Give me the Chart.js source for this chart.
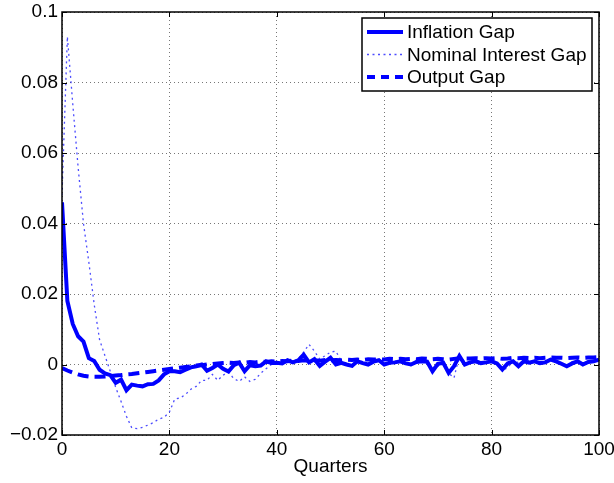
<!DOCTYPE html>
<html>
<head>
<meta charset="utf-8">
<script src="https://cdn.jsdelivr.net/npm/chart.js@4"></script>
<style>
  html, body { margin: 0; padding: 0; background: #fff; }
  #wrap { width: 614px; height: 483px; }
</style>
</head>
<body>
<div id="wrap"><canvas id="chart"></canvas></div>
<script>
// quarters 0..100
const quarters = Array.from({ length: 101 }, (_, i) => i);

const inflationGap = [
  0.046, 0.018, 0.0115, 0.008, 0.0065, 0.0018, 0.001, -0.0015, -0.0025, -0.003,
  -0.0052, -0.0043, -0.0073, -0.0057, -0.006, -0.0062, -0.0056, -0.0055, -0.0045, -0.0028,
  -0.0019, -0.0019, -0.0022, -0.0015, -0.0008, -0.0005, 0.0, -0.0018, -0.001, 0.0,
  -0.0012, -0.002, -0.0002, 0.0005, -0.0019, -0.0002, -0.0005, -0.0003, 0.0009, 0.0004,
  0.0005, 0.0003, 0.0012, 0.0006, 0.0012, 0.0028, 0.0006, 0.0015, -0.0004, 0.0008,
  0.0019, 0.0, 0.0005, 0.0, -0.0004, 0.0009, 0.0004, 0.0, 0.0008, 0.0012,
  0.0, 0.0005, 0.0006, 0.0009, 0.0003, 0.0, 0.0007, 0.0009, 0.0008, -0.0019,
  0.0002, 0.0005, -0.0024, -0.0005, 0.0024, 0.0, 0.0006, 0.0009, 0.0004, 0.0006,
  0.0009, 0.0003, -0.0014, 0.0003, 0.0009, -0.0005, 0.0009, 0.0005, 0.0009, 0.0004,
  0.0006, 0.0014, 0.0009, 0.0002, -0.0005, 0.0003, 0.0009, 0.0, 0.0007, 0.0009,
  0.0014
];

const nominalInterestGap = [
  0.048, 0.093, 0.074, 0.056, 0.04, 0.029, 0.017, 0.007, 0.0025, -0.002,
  -0.0065, -0.0105, -0.0147, -0.018, -0.0182, -0.0178, -0.0172, -0.0165, -0.0155, -0.015,
  -0.0135, -0.0098, -0.0095, -0.0085, -0.007, -0.0062, -0.0045, -0.0045, -0.0028, -0.0045,
  -0.003, -0.0022, -0.004, -0.0048, -0.0035, -0.0048, -0.0042, -0.0025, -0.0012, 0.0,
  0.0005, 0.0, 0.0012, 0.001, 0.0015, 0.0035, 0.0057, 0.0038, 0.0015, 0.0025,
  0.0035, 0.0038, 0.001, -0.0002, -0.0009, 0.0008, 0.0009, -0.0002, 0.0005, 0.0014,
  0.0, 0.0003, 0.0009, 0.0012, 0.0004, -0.0004, 0.0006, 0.0012, 0.0012, -0.0018,
  -0.0005, 0.0008, -0.0025, -0.0038, 0.0025, 0.0008, 0.0004, 0.0012, 0.0008, 0.0004,
  0.0012, 0.0006, -0.0016, -0.001, 0.0012, 0.0005, 0.0007, 0.0012, 0.0008, 0.0002,
  0.0008, 0.0016, 0.0012, 0.0003, -0.0005, 0.0008, 0.0012, 0.0003, 0.0005, 0.0012,
  0.0015
];

const outputGap = [
  -0.001, -0.0017, -0.0023, -0.0028, -0.0032, -0.0034, -0.0035, -0.0035, -0.0034, -0.0033,
  -0.0031, -0.003, -0.0028, -0.0027, -0.0025, -0.0023, -0.0021, -0.0019, -0.0017, -0.0015,
  -0.0013, -0.0011, -0.0009, -0.0007, -0.0005, -0.0003, -0.0002, 0.0, 0.0001, 0.0003,
  0.0004, 0.0005, 0.0004, 0.0006, 0.0005, 0.0007, 0.0006, 0.0008, 0.0007, 0.0009,
  0.0008, 0.001, 0.0009, 0.0011, 0.001, 0.0012, 0.001, 0.0012, 0.0011, 0.0013,
  0.0012, 0.0013, 0.0012, 0.0014, 0.0013, 0.0014, 0.0013, 0.0015, 0.0014, 0.0015,
  0.0014, 0.0016, 0.0015, 0.0016, 0.0015, 0.0016, 0.0015, 0.0017, 0.0016, 0.0015,
  0.0016, 0.0015, 0.0014, 0.0016, 0.0018, 0.0017, 0.0017, 0.0018, 0.0017, 0.0018,
  0.0017, 0.0018, 0.0016, 0.0017, 0.0019, 0.0018, 0.0019, 0.0018, 0.0019, 0.0018,
  0.0019, 0.002, 0.0019, 0.0019, 0.0018, 0.0019, 0.002, 0.0019, 0.002, 0.002,
  0.0021
];

const seriesLabels = ['Inflation Gap', 'Nominal Interest Gap', 'Output Gap'];
const xTicks = [0, 20, 40, 60, 80, 100];
const yTicks = [-0.02, 0, 0.02, 0.04, 0.06, 0.08, 0.1];

const FONT = "'Liberation Sans', Arial, Helvetica, sans-serif";
const BLUE = '#0000ff';

const toPoints = (vals) => quarters.map((q, i) => ({ x: q, y: vals[i] }));

// box, inward ticks and the legend, MATLAB style
const matlabAxes = {
  id: 'matlabAxes',
  afterDraw(chart) {
    const { ctx, chartArea: a, scales: { x, y } } = chart;
    ctx.save();
    ctx.strokeStyle = '#000';
    ctx.lineWidth = 1.5;
    ctx.strokeRect(a.left, a.top, a.right - a.left, a.bottom - a.top);

    ctx.lineWidth = 1;
    ctx.beginPath();
    xTicks.forEach(v => {
      const px = Math.round(x.getPixelForValue(v)) + 0.5;
      ctx.moveTo(px, a.bottom); ctx.lineTo(px, a.bottom - 5);
      ctx.moveTo(px, a.top); ctx.lineTo(px, a.top + 5);
    });
    yTicks.forEach(v => {
      const py = Math.round(y.getPixelForValue(v)) + 0.5;
      ctx.moveTo(a.left, py); ctx.lineTo(a.left + 5, py);
      ctx.moveTo(a.right, py); ctx.lineTo(a.right - 5, py);
    });
    ctx.stroke();

    // legend
    const lx = 362, ly = 18, lw = 230, lh = 73;
    ctx.fillStyle = '#fff';
    ctx.fillRect(lx, ly, lw, lh);
    ctx.strokeStyle = '#000';
    ctx.lineWidth = 1.5;
    ctx.strokeRect(lx, ly, lw, lh);
    ctx.font = '19px ' + FONT;
    ctx.textBaseline = 'middle';
    chart.data.datasets.forEach((ds, i) => {
      const ry = ly + 14 + i * 22.5;
      ctx.save();
      ctx.strokeStyle = ds.borderColor;
      ctx.lineWidth = ds.borderWidth;
      ctx.setLineDash(ds.legendDash);
      ctx.beginPath();
      ctx.moveTo(lx + 5, ry); ctx.lineTo(lx + 41, ry);
      ctx.stroke();
      ctx.restore();
      ctx.fillStyle = '#000';
      ctx.fillText(ds.label, lx + 45, ry + 1);
    });
    ctx.restore();
  }
};

new Chart(document.getElementById('chart'), {
  type: 'line',
  data: {
    datasets: [
      {
        label: seriesLabels[0],
        data: toPoints(inflationGap),
        borderColor: BLUE,
        borderWidth: 4,
        legendDash: [],
        pointRadius: 0,
        tension: 0
      },
      {
        label: seriesLabels[1],
        data: toPoints(nominalInterestGap),
        borderColor: 'rgba(0,0,255,0.7)',
        borderWidth: 1.3,
        borderDash: [2, 3.5],
        legendDash: [2, 3.5],
        pointRadius: 0,
        tension: 0
      },
      {
        label: seriesLabels[2],
        data: toPoints(outputGap),
        borderColor: BLUE,
        borderWidth: 4,
        borderDash: [11, 6],
        legendDash: [8, 6],
        pointRadius: 0,
        tension: 0
      }
    ]
  },
  options: {
    responsive: true,
    maintainAspectRatio: false,
    animation: false,
    layout: { padding: { top: 12, right: 15, left: 0, bottom: 0 } },
    plugins: {
      legend: { display: false },
      tooltip: { enabled: false }
    },
    scales: {
      x: {
        type: 'linear',
        min: 0,
        max: 100,
        afterFit: (s) => { s.height = 48; s.paddingLeft = 0; s.paddingRight = 0; },
        afterBuildTicks: (s) => { s.ticks = xTicks.map(v => ({ value: v })); },
        ticks: {
          color: '#000',
          font: { family: FONT, size: 19 },
          padding: 3,
          maxRotation: 0
        },
        grid: { color: '#777', lineWidth: 1, drawTicks: false },
        border: { display: false, dash: [1, 3] },
        title: {
          display: true,
          text: 'Quarters',
          color: '#000',
          font: { family: FONT, size: 19 },
          padding: { top: 0, bottom: 5 }
        }
      },
      y: {
        min: -0.02,
        max: 0.1,
        afterFit: (s) => { s.width = 62; s.paddingTop = 0; s.paddingBottom = 0; },
        afterBuildTicks: (s) => { s.ticks = yTicks.map(v => ({ value: v })); },
        ticks: {
          color: '#000',
          font: { family: FONT, size: 19 },
          padding: 4,
          callback: (v) => {
            const s = String(Number(v.toFixed(2)));
            return s.replace('-', '\u2212');
          }
        },
        grid: { color: '#777', lineWidth: 1, drawTicks: false },
        border: { display: false, dash: [1, 3] }
      }
    }
  },
  plugins: [matlabAxes]
});
</script>
</body>
</html>
